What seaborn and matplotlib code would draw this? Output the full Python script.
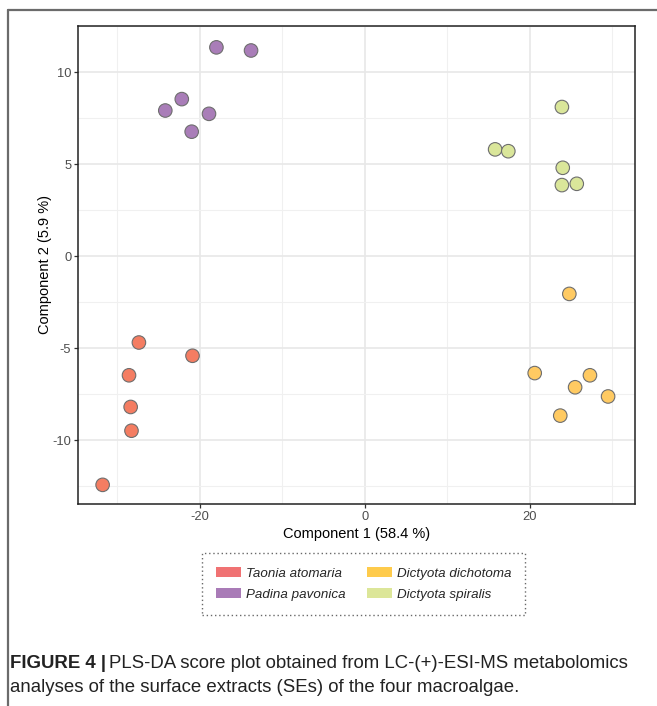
import pandas as pd
import seaborn as sns
from matplotlib import pyplot as plt
from matplotlib.patches import Patch
from matplotlib.ticker import MultipleLocator

# PLS-DA scores
taonia_x = [-27.4, -20.9, -28.6, -28.4, -28.3, -31.8]
taonia_y = [-4.69, -5.41, -6.47, -8.19, -9.48, -12.42]
padina_x = [-18.0, -13.8, -22.2, -24.2, -18.9, -21.0]
padina_y = [11.34, 11.17, 8.53, 7.91, 7.73, 6.76]
dichotoma_x = [24.8, 20.6, 27.3, 25.5, 29.5, 23.7]
dichotoma_y = [-2.05, -6.35, -6.47, -7.12, -7.62, -8.66]
spiralis_x = [23.9, 15.8, 17.4, 24.0, 23.9, 25.7]
spiralis_y = [8.1, 5.8, 5.7, 4.8, 3.86, 3.93]

species = ['Taonia atomaria', 'Padina pavonica', 'Dictyota dichotoma', 'Dictyota spiralis']
point_colors = ['#F47D62', '#A97DB8', '#FFCA62', '#DAE69A']
legend_colors = ['#F07273', '#A97BB7', '#FECB4C', '#DCE699']

df = pd.DataFrame({
    'comp1': taonia_x + padina_x + dichotoma_x + spiralis_x,
    'comp2': taonia_y + padina_y + dichotoma_y + spiralis_y,
    'species': [species[0]] * 6 + [species[1]] * 6 + [species[2]] * 6 + [species[3]] * 6,
})

sns.set_theme(style="white")
plt.rcParams['font.family'] = ['Liberation Sans', 'DejaVu Sans']
plt.rcParams['axes.unicode_minus'] = False

fig = plt.figure(figsize=(6.57, 7.06), dpi=100)
ax = fig.add_axes([78.3 / 657, 1 - 504 / 706, (635.3 - 78.3) / 657, (504 - 26) / 706])

sns.scatterplot(data=df, x='comp1', y='comp2', hue='species', hue_order=species,
                palette=point_colors, s=95, edgecolor='#6e6e6e', linewidth=0.8,
                legend=False, ax=ax, zorder=3)

ax.set_xlim(-34.75, 32.8)
ax.set_ylim(-13.46, 12.5)
ax.xaxis.set_major_locator(MultipleLocator(20))
ax.xaxis.set_minor_locator(MultipleLocator(10))
ax.yaxis.set_major_locator(MultipleLocator(5))
ax.yaxis.set_minor_locator(MultipleLocator(2.5))
ax.grid(which='major', color='#E8E8E8', linewidth=1.2, zorder=0)
ax.grid(which='minor', color='#F0F0F0', linewidth=0.8, zorder=0)
ax.set_axisbelow(True)
for sp in ax.spines.values():
    sp.set_color('#222222')
    sp.set_linewidth(1.1)
ax.tick_params(which='major', direction='out', length=3, width=0.9, color='#333333',
               labelsize=9.3, labelcolor='#4D4D4D', pad=2, left=True, bottom=True)
ax.tick_params(which='minor', length=0)
ax.set_xlabel('Component 1 (58.4 %)', fontsize=10.5, color='black', labelpad=3)
ax.set_ylabel('Component 2 (5.9 %)', fontsize=10.5, color='black', labelpad=0)

handles = [Patch(facecolor=c, edgecolor='none') for c in legend_colors]
leg = fig.legend(handles, species, loc='center', bbox_to_anchor=(363.5 / 657, 1 - 584 / 706),
                 ncol=2, frameon=True, fancybox=False, handlelength=1.9, handleheight=0.75,
                 handletextpad=0.35, columnspacing=1.6, labelspacing=0.6,
                 prop={'size': 9.6, 'style': 'italic'}, borderpad=1.05, borderaxespad=0)
leg.get_frame().set_linestyle((0, (1, 2)))
leg.get_frame().set_edgecolor('#444444')
leg.get_frame().set_linewidth(1.0)

# journal figure frame (top and left rules)
fig.add_artist(plt.Line2D([8 / 657, 1], [1 - 10 / 706, 1 - 10 / 706], color='#6b6b6b', linewidth=1.6))
fig.add_artist(plt.Line2D([8 / 657, 8 / 657], [0, 1 - 10 / 706], color='#6b6b6b', linewidth=1.6))

# caption
cap_size = 13.4
bold = fig.text(10 / 657, 1 - 663 / 706, 'FIGURE 4 |', fontsize=cap_size, fontweight='bold',
                va='center', ha='left', color='#222222')
fig.canvas.draw()
bb = bold.get_window_extent().transformed(fig.transFigure.inverted())
fig.text(bb.x1 + 3 / 657, 1 - 663 / 706,
         'PLS-DA score plot obtained from LC-(+)-ESI-MS metabolomics',
         fontsize=cap_size, va='center', ha='left', color='#222222')
fig.text(10 / 657, 1 - 688 / 706, 'analyses of the surface extracts (SEs) of the four macroalgae.',
         fontsize=cap_size, va='center', ha='left', color='#222222')

fig.savefig('out.png', dpi=100)
